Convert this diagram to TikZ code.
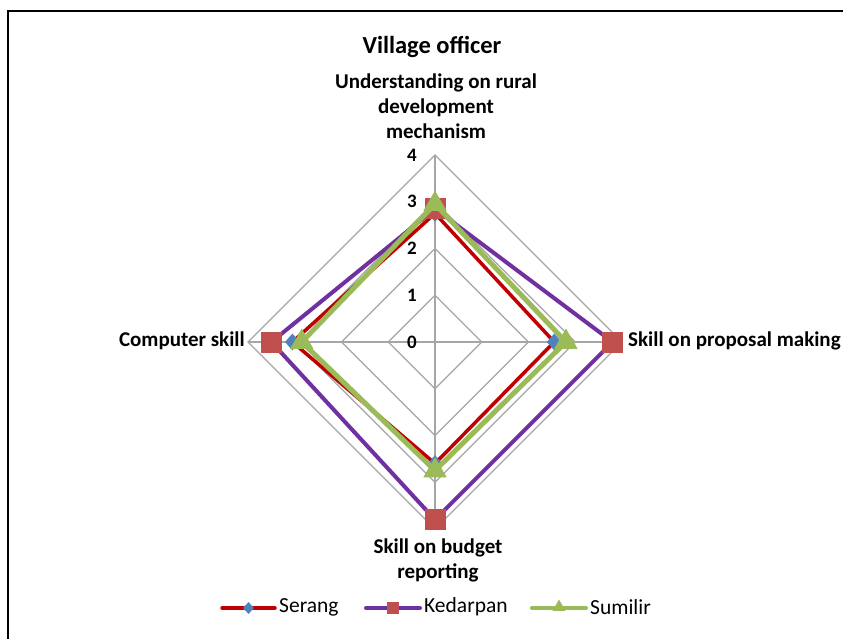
\documentclass[tikz,border=0pt]{standalone}
\usepackage{fontspec}
\setmainfont{Carlito}
\usetikzlibrary{shapes.geometric,calc}
\definecolor{serline}{HTML}{C00000}
\definecolor{sermark}{HTML}{4F81BD}
\definecolor{kedline}{HTML}{7030A0}
\definecolor{kedmark}{HTML}{C0504D}
\definecolor{sumline}{HTML}{9BBB59}
\definecolor{gridgray}{HTML}{A6A6A6}
\begin{document}
\begin{tikzpicture}[x=1pt,y=-1pt,
  gridline/.style={draw=gridgray,line width=1.1pt},
  catlabel/.style={font=\fontsize{21}{25}\selectfont\bfseries,align=center,inner sep=0pt},
  ticklabel/.style={font=\fontsize{19}{22}\selectfont\bfseries,anchor=east,inner sep=0pt},
  legtext/.style={font=\fontsize{21.5}{24}\selectfont,anchor=west,inner sep=0pt},
  serie/.style={line width=#1,line join=miter},
  diamark/.style={diamond,fill=sermark,draw=none,minimum width=15pt,minimum height=17pt,inner sep=0pt},
  sqmark/.style={rectangle,fill=kedmark,draw=none,minimum size=21pt,inner sep=0pt},
  trimark/.style={regular polygon,regular polygon sides=3,fill=sumline,draw=none,minimum size=27pt,inner sep=0pt},
]
\useasboundingbox (0,0) rectangle (843,639);
\fill[white] (0,0) rectangle (843,639);
\clip (0,0) rectangle (843,639);
% chart frame
\draw[line width=2.5pt] (8,11) rectangle (860,660);

% radar grid
\def\cx{435}\def\cy{342}\def\un{46.75}
\coordinate (C) at (\cx,\cy);
\foreach \r in {1,2,3,4}{
  \draw[gridline] ({\cx},{\cy-\un*\r}) -- ({\cx+\un*\r},{\cy}) -- ({\cx},{\cy+\un*\r}) -- ({\cx-\un*\r},{\cy}) -- cycle;
}
\foreach \dx/\dy in {0/-1,1/0,0/1,-1/0}{
  \draw[gridline] (C) -- ({\cx+4*\un*\dx},{\cy+4*\un*\dy});
}
\foreach \r in {0,...,4}{
  \node[ticklabel] (tick\r) at (417,{\cy-\un*\r}) {\r};
}

% series points
\foreach \name/\t/\rr/\b/\l in {ser/2.75/2.55/2.6/3.05, ked/2.85/3.8/3.8/3.5, sum/2.95/2.8/2.75/2.85}{
  \coordinate (\name T) at ({\cx},{\cy-\un*\t});
  \coordinate (\name R) at ({\cx+\un*\rr},{\cy});
  \coordinate (\name B) at ({\cx},{\cy+\un*\b});
  \coordinate (\name L) at ({\cx-\un*\l},{\cy});
}

% Serang
\draw[serie=3.5pt,serline] (serT) -- (serR) -- (serB) -- (serL) -- cycle;
\foreach \p in {T,R,B,L} \node[diamark] at (ser\p) {};
% Kedarpan
\draw[serie=4pt,kedline] (kedT) -- (kedR) -- (kedB) -- (kedL) -- cycle;
\foreach \p in {T,R,B,L} \node[sqmark] at (ked\p) {};
% Sumilir
\draw[serie=5pt,sumline] (sumT) -- (sumR) -- (sumB) -- (sumL) -- cycle;
\foreach \p in {T,R,B,L} \node[trimark] at (sum\p) {};

% titles and category labels
\node[font=\fontsize{24.5}{28}\selectfont\bfseries] (title) at (432,47) {Village officer};
\node[catlabel] (catT) at (436,106) {Understanding on rural\\development\\mechanism};
\node[catlabel,anchor=west] (catR) at (628,341) {Skill on proposal making};
\node[catlabel,anchor=east] (catL) at (245,341) {Computer skill};
\node[catlabel] (catB) at (438,560) {Skill on budget\\reporting};

% legend
\coordinate (lg1a) at (222,608); \coordinate (lg1b) at (275,608);
\coordinate (lg2a) at (366,608); \coordinate (lg2b) at (420,608);
\coordinate (lg3a) at (532,608); \coordinate (lg3b) at (586,608);
\draw[serie=3.5pt,serline,line cap=round] (lg1a) -- (lg1b);
\node[diamark,minimum width=11pt,minimum height=12pt] at ($(lg1a)!0.5!(lg1b)$) {};
\node[legtext] (leg1) at (279,607) {Serang};
\draw[serie=4pt,kedline,line cap=round] (lg2a) -- (lg2b);
\node[sqmark,minimum size=12pt] at ($(lg2a)!0.5!(lg2b)$) {};
\node[legtext] (leg2) at (424,607) {Kedarpan};
\draw[serie=4pt,sumline,line cap=round] (lg3a) -- (lg3b);
\node[trimark,minimum size=15pt] at ($(lg3a)!0.5!(lg3b)+(0,-1)$) {};
\node[legtext] (leg3) at (590,607) {Sumilir};
\end{tikzpicture}
\end{document}
